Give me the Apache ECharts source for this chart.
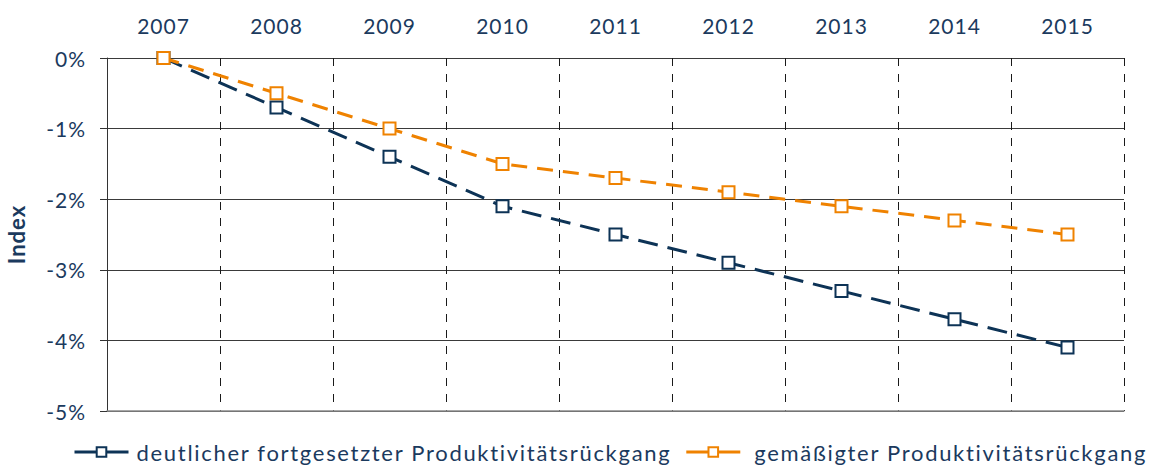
<!DOCTYPE html>
<html>
<head>
<meta charset="utf-8">
<script src="https://cdn.jsdelivr.net/npm/echarts@6/dist/echarts.min.js"></script>
<style>
  html, body { margin: 0; padding: 0; background: #fff; }
  #chart { width: 1155px; height: 467px; }
  /* etwas gesperrte Schrift */
  #chart svg text { letter-spacing: 1px; }
  #chart svg text.legend-text { letter-spacing: 1.7px; }
</style>
</head>
<body>
<div id="chart"></div>
<script>
// Jahre (Kategorien)
const years = ['2007', '2008', '2009', '2010', '2011', '2012', '2013', '2014', '2015'];

// Indexverlauf in Prozent
const deutlicherRueckgang = [0, -0.7, -1.4, -2.1, -2.5, -2.9, -3.3, -3.7, -4.1];
const gemaessigterRueckgang = [0, -0.5, -1.0, -1.5, -1.7, -1.9, -2.1, -2.3, -2.5];

const seriesNames = [
  'deutlicher fortgesetzter Produktivitätsrückgang',
  'gemäßigter Produktivitätsrückgang'
];

const NAVY = '#0d3356';
const ORANGE = '#ef8200';
const TEXT = '#1b3a5e';
const FONT = 'Lato';

const chart = echarts.init(document.getElementById('chart'), null, { renderer: 'svg' });

chart.setOption({
  animation: false,
  textStyle: { fontFamily: FONT },
  grid: { left: 107, right: 31, top: 58, bottom: 56, outerBoundsMode: 'none' },
  legend: {
    top: 436,
    left: 68,
    itemWidth: 54,
    itemHeight: 12,
    itemGap: 92,
    textStyle: { color: TEXT, fontSize: 22, fontFamily: FONT, padding: [0, 0, 0, 3] },
    lineStyle: { type: 'solid', width: 3 },
    data: [
      { name: seriesNames[0] },
      { name: seriesNames[1], textStyle: { padding: [0, 0, 0, 9] } }
    ]
  },
  xAxis: [
    {
      type: 'category',
      position: 'top',
      data: years,
      boundaryGap: true,
      axisLine: { show: false },
      axisTick: { show: false },
      axisLabel: { color: TEXT, fontSize: 21, margin: 22 },
      splitLine: {
        show: true,
        lineStyle: { color: '#1a1a1a', width: 1, type: [8, 8] }
      }
    },
    {
      type: 'category',
      position: 'bottom',
      data: years,
      axisLine: { show: true, lineStyle: { color: '#8a8a8a', width: 1.5 } },
      axisTick: { show: false },
      axisLabel: { show: false },
      splitLine: { show: false }
    }
  ],
  yAxis: {
    type: 'value',
    min: -5,
    max: 0,
    interval: 1,
    name: 'Index',
    nameLocation: 'middle',
    nameGap: 80,
    nameTextStyle: { color: TEXT, fontSize: 22, fontWeight: 'bold' },
    axisLine: { show: true, lineStyle: { color: '#333', width: 1 } },
    axisTick: { show: true, length: 7, lineStyle: { color: '#333' } },
    axisLabel: {
      color: TEXT,
      fontSize: 21,
      margin: 21,
      formatter: v => v + '%'
    },
    splitLine: { show: true, lineStyle: { color: '#3a3a3a', width: 1 } }
  },
  series: [
    {
      name: seriesNames[0],
      type: 'line',
      data: deutlicherRueckgang,
      symbol: 'rect',
      symbolSize: 12,
      showAllSymbol: true,
      lineStyle: { color: NAVY, width: 3, type: [20, 10] },
      itemStyle: { color: '#fff', borderColor: NAVY, borderWidth: 2 },
      z: 3
    },
    {
      name: seriesNames[1],
      type: 'line',
      data: gemaessigterRueckgang,
      symbol: 'rect',
      symbolSize: 12,
      showAllSymbol: true,
      lineStyle: { color: ORANGE, width: 3, type: [16, 10] },
      itemStyle: { color: '#fff', borderColor: ORANGE, borderWidth: 2 },
      z: 4
    }
  ]
});

// Legendentexte etwas weiter sperren
chart.getDom().querySelectorAll('svg text').forEach(t => {
  if (seriesNames.includes(t.textContent)) t.classList.add('legend-text');
});
</script>
</body>
</html>
